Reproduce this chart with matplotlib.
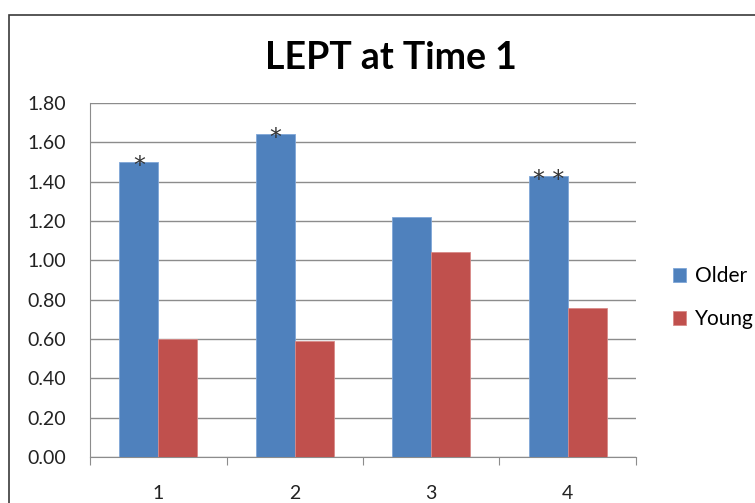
import matplotlib
matplotlib.use("Agg")
import matplotlib.pyplot as plt
from matplotlib.patches import Rectangle
import numpy as np

categories = ["1", "2", "3", "4"]
older = [1.50, 1.64, 1.22, 1.43]
young = [0.60, 0.59, 1.04, 0.76]
older_marks = ["*", "*", "", "* *"]
series_names = ["Older", "Young"]
yticks = [0.0, 0.2, 0.4, 0.6, 0.8, 1.0, 1.2, 1.4, 1.6, 1.8]

plt.rcParams['font.family'] = ['Lato', 'DejaVu Sans']

W, H = 755, 503
fig = plt.figure(figsize=(W / 100, H / 100), dpi=100)
fig.patch.set_facecolor("white")

# outer chart border
fig.patches.append(Rectangle((9 / W, 0 - 0.01), 1.2, (H - 15) / H + 0.01,
                             transform=fig.transFigure, fill=False,
                             edgecolor="#3a3a3a", linewidth=1.2))

left, right, top, bottom = 90, 636, 103, 457
ax = fig.add_axes([left / W, 1 - bottom / H, (right - left) / W, (bottom - top) / H])

x = np.arange(len(categories))
bw = 1 / 3.5
blue = "#4F81BD"
red = "#C0504D"
b1 = ax.bar(x - bw / 2, older, bw, color=blue, edgecolor="#7fa6d8", linewidth=0.6,
            label=series_names[0], zorder=3)
b2 = ax.bar(x + bw / 2, young, bw, color=red, edgecolor="#d88a88", linewidth=0.6,
            label=series_names[1], zorder=3)

for xi, v, m in zip(x, older, older_marks):
    if m:
        ax.text(xi - bw / 2, v - 0.055, m, ha="center", va="baseline", fontsize=17,
                color="#333333", family="DejaVu Sans", zorder=4)

ax.set_xlim(-0.5, len(categories) - 0.5)
ax.set_ylim(0, 1.8)
ax.set_yticks(yticks)
ax.set_yticklabels([f"{t:.2f}" for t in yticks], fontsize=14, color="#222222")
ax.yaxis.grid(True, color="#8c8c8c", linewidth=1.0, zorder=0)
ax.set_axisbelow(True)
ax.tick_params(axis="y", length=0, pad=17)

ax.set_xticks(np.arange(-0.5, len(categories), 1.0))
ax.set_xticklabels([])
ax.set_xticks(x, minor=True)
ax.set_xticklabels(categories, minor=True, fontsize=14, color="#222222")
ax.tick_params(axis="x", which="major", length=6, color="#8c8c8c", direction="out")
ax.tick_params(axis="x", which="minor", length=0, pad=20)

for s in ["top", "right"]:
    ax.spines[s].set_visible(False)
ax.spines["left"].set_color("#8c8c8c")
ax.spines["bottom"].set_color("#8c8c8c")

fig.text(391 / W, 1 - 58 / H, "LEPT at Time 1", ha="center", va="center",
         fontsize=27, fontweight="bold", color="black")

leg = fig.legend(handles=[b1, b2], labels=series_names, loc="upper left",
                 bbox_to_anchor=(665 / W, 1 - 258 / H), frameon=False,
                 fontsize=15, handlelength=0.63, handleheight=0.63,
                 handletextpad=0.4, labelspacing=1.11, borderaxespad=0,
                 borderpad=0.4)

fig.savefig("out.png", dpi=100)
